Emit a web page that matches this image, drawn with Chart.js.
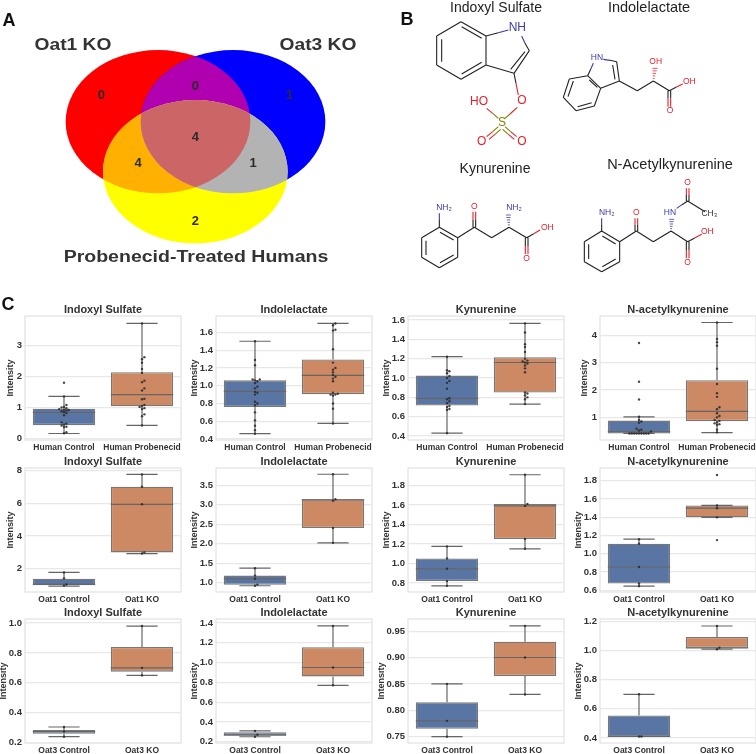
<!DOCTYPE html>
<html>
<head>
<meta charset="utf-8">
<script src="https://cdn.jsdelivr.net/npm/chart.js@4"></script>
<style>
  html, body { margin: 0; padding: 0; background: #fff; }
  #page { position: relative; width: 756px; height: 754px; overflow: hidden; font-family: "Liberation Sans", Arial, sans-serif; }
  #page canvas { position: absolute; }
  .note { position: absolute; white-space: nowrap; transform: translate(-50%, -50%); }
</style>
</head>
<body>
<div id="page"></div>
<script>
// Categories and panel titles
const metabolites = ['Indoxyl Sulfate', 'Indolelactate', 'Kynurenine', 'N-acetylkynurenine'];
const humanGroups = ['Human Control', 'Human Probenecid'];
const oat1Groups = ['Oat1 Control', 'Oat1 KO'];
const oat3Groups = ['Oat3 Control', 'Oat3 KO'];

// Box stats per group: whisker low, q1, median, q3, whisker high
const humanIndoxylBox = [[0.16, 0.43, 0.84, 0.96, 1.36], [0.42, 1.04, 1.42, 2.14, 3.72]];
const humanLactateBox = [[0.46, 0.76, 0.935, 1.06, 1.5], [0.575, 0.905, 1.115, 1.295, 1.7]];
const humanKynBox = [[0.43, 0.715, 0.79, 1.025, 1.22], [0.73, 0.85, 1.16, 1.215, 1.565]];
const humanAcetylBox = [[0.41, 0.41, 0.48, 0.88, 1.02], [0.44, 0.86, 1.22, 2.36, 4.47]];
const oat1IndoxylBox = [[0.95, 1.0, 1.05, 1.4, 1.78], [2.93, 3.0, 5.93, 7.0, 7.75]];
const oat1LactateBox = [[0.92, 0.945, 1.1, 1.18, 1.37], [2.02, 2.4, 3.12, 3.14, 3.78]];
const oat1KynBox = [[0.77, 0.82, 0.945, 1.05, 1.175], [1.15, 1.25, 1.59, 1.61, 1.91]];
const oat1AcetylBox = [[0.645, 0.675, 0.855, 1.11, 1.16], [1.4, 1.4, 1.5, 1.53, 1.53]];
const oat3IndoxylBox = [[0.24, 0.26, 0.275, 0.285, 0.305], [0.65, 0.675, 0.7, 0.84, 0.98]];
const oat3LactateBox = [[0.25, 0.26, 0.27, 0.295, 0.31], [0.77, 0.86, 0.95, 1.155, 1.37]];
const oat3KynBox = [[0.75, 0.765, 0.78, 0.815, 0.85], [0.83, 0.865, 0.9, 0.93, 0.96]];
const oat3AcetylBox = [[0.41, 0.41, 0.41, 0.555, 0.7], [1.01, 1.02, 1.02, 1.095, 1.17]];

// Individual samples per group
const humanIndoxylPts = [
  [1.8, 1.36, 1.08, 1.02, 1.0, 0.98, 0.95, 0.93, 0.92, 0.9, 0.88, 0.85, 0.82, 0.75, 0.52, 0.48, 0.45, 0.42, 0.38, 0.37, 0.2, 0.17],
  [3.72, 2.63, 2.56, 2.45, 2.25, 2.12, 1.87, 1.82, 1.62, 1.55, 1.28, 1.27, 1.08, 1.05, 1.02, 0.98, 0.95, 0.78, 0.72, 0.42]
];
const humanLactatePts = [
  [1.5, 1.29, 1.23, 1.07, 1.07, 1.06, 1.05, 1.03, 0.99, 0.97, 0.93, 0.92, 0.9, 0.82, 0.8, 0.78, 0.7, 0.61, 0.55, 0.5, 0.46],
  [1.7, 1.68, 1.63, 1.62, 1.41, 1.26, 1.2, 1.18, 1.15, 1.12, 1.1, 1.08, 1.05, 0.92, 0.91, 0.9, 0.9, 0.89, 0.8, 0.74, 0.575]
];
const humanKynPts = [
  [1.22, 1.08, 1.07, 1.05, 1.02, 1.0, 0.97, 0.95, 0.89, 0.79, 0.78, 0.76, 0.74, 0.71, 0.7, 0.68, 0.67, 0.43],
  [1.565, 1.47, 1.35, 1.32, 1.27, 1.2, 1.18, 1.17, 1.16, 1.15, 1.13, 1.1, 1.06, 0.85, 0.84, 0.82, 0.8, 0.78, 0.73]
];
const humanAcetylPts = [
  [3.72, 2.3, 1.65, 1.02, 0.9, 0.85, 0.8, 0.58, 0.55, 0.52, 0.48, 0.41, 0.41, 0.41, 0.41, 0.41, 0.41, 0.41, 0.41, 0.41],
  [4.47, 3.87, 3.75, 3.62, 2.78, 2.22, 1.88, 1.75, 1.37, 1.3, 1.15, 1.05, 1.0, 0.9, 0.87, 0.82, 0.78, 0.75, 0.72, 0.55, 0.45]
];
const oat1IndoxylPts = [[1.78, 1.42, 1.05, 0.98], [2.93, 3.0, 5.93, 7.0, 7.75]];
const oat1LactatePts = [[0.92, 0.95, 1.1, 1.18, 1.37], [2.02, 2.4, 3.1, 3.14, 3.78]];
const oat1KynPts = [[0.77, 0.82, 0.945, 1.05, 1.175], [1.15, 1.25, 1.59, 1.61, 1.91]];
const oat1AcetylPts = [[0.645, 0.675, 0.855, 1.11, 1.16], [1.15, 1.4, 1.5, 1.53, 1.865]];
const oat3IndoxylPts = [[0.24, 0.275, 0.305], [0.65, 0.7, 0.98]];
const oat3LactatePts = [[0.25, 0.27, 0.31], [0.77, 0.95, 1.37]];
const oat3KynPts = [[0.75, 0.78, 0.85], [0.83, 0.9, 0.96]];
const oat3AcetylPts = [[0.41, 0.41, 0.7], [1.01, 1.02, 1.17]];

// Tick labels of each y axis
const humanIndoxylTicks = [0, 1, 2, 3];
const humanLactateTicks = [0.4, 0.6, 0.8, 1.0, 1.2, 1.4, 1.6];
const humanKynTicks = [0.4, 0.6, 0.8, 1.0, 1.2, 1.4, 1.6];
const humanAcetylTicks = [1, 2, 3, 4];
const oat1IndoxylTicks = [2, 4, 6, 8];
const oat1LactateTicks = [1.0, 1.5, 2.0, 2.5, 3.0, 3.5];
const oat1KynTicks = [0.8, 1.0, 1.2, 1.4, 1.6, 1.8];
const oat1AcetylTicks = [0.6, 0.8, 1.0, 1.2, 1.4, 1.6, 1.8];
const oat3IndoxylTicks = [0.2, 0.4, 0.6, 0.8, 1.0];
const oat3LactateTicks = [0.2, 0.4, 0.6, 0.8, 1.0, 1.2, 1.4];
const oat3KynTicks = [0.75, 0.8, 0.85, 0.9, 0.95];
const oat3AcetylTicks = [0.4, 0.6, 0.8, 1.0, 1.2];

// Venn counts
const vennCounts = [0, 0, 1, 4, 4, 1, 2];

const AXIS_W = 30, PLOT_W = 156, PLOT_H = 124, TITLE_H = 16, XAXIS_H = 16;
const colLeft = [25, 216, 408, 600];
const rowTop = [316, 468, 619];
const boxColors = ['#5875a4', '#cc8963'];
const FONT = '"Liberation Sans", Arial, sans-serif';
const page = document.getElementById('page');

function addCanvas(left, top, w, h) {
  const c = document.createElement('canvas');
  c.width = w;
  c.height = h;
  c.style.left = left + 'px';
  c.style.top = top + 'px';
  c.style.width = w + 'px';
  c.style.height = h + 'px';
  page.appendChild(c);
  return c.getContext('2d');
}

function addNote(text, x, y, size, weight, color, stretch = 1) {
  const d = document.createElement('div');
  d.className = 'note';
  d.textContent = text;
  d.style.left = x + 'px';
  d.style.top = y + 'px';
  d.style.fontSize = size + 'px';
  d.style.fontWeight = weight;
  d.style.color = color;
  d.style.transform = `translate(-50%, -50%) scaleX(${stretch})`;
  page.appendChild(d);
}

// Beeswarm layout, same idea as seaborn's swarmplot: nudge sideways until no overlap
function swarm(values, center, yMin, yMax) {
  const pxPerY = PLOT_H / (yMax - yMin), gap = 2.4, placed = [];
  [...values].sort((a, b) => a - b).forEach(v => {
    const py = v * pxPerY;
    for (let k = 0; k < 30; k++) {
      const off = (k % 2 ? 1 : -1) * Math.ceil(k / 2) * gap;
      if (placed.every(p => Math.hypot(p.off - off, p.py - py) >= gap - 0.01)) {
        placed.push({ off, py, v });
        break;
      }
    }
  });
  return placed.map(p => ({ x: center + p.off / (PLOT_W / 2), y: p.v }));
}

// Whiskers, caps and median as one broken line
function boxLines(stats, i) {
  const [lo, q1, med, q3, hi] = stats;
  const gap = { x: i, y: null };
  return [
    { x: i - 0.2, y: lo }, { x: i + 0.2, y: lo }, gap,
    { x: i - 0.2, y: hi }, { x: i + 0.2, y: hi }, gap,
    { x: i, y: lo }, { x: i, y: q1 }, gap,
    { x: i, y: q3 }, { x: i, y: hi }, gap,
    { x: i - 0.4, y: med }, { x: i + 0.4, y: med }, gap
  ];
}

const framePlugin = {
  id: 'frame',
  beforeDraw(chart) {
    const a = chart.chartArea, ctx = chart.ctx;
    ctx.save();
    ctx.strokeStyle = '#e4e4e4';
    ctx.lineWidth = 1.3;
    ctx.strokeRect(a.left, a.top, a.right - a.left, a.bottom - a.top);
    ctx.restore();
  }
};

function boxPanel(row, col, groups, box, pts, ticks, yMin, yMax, titleX) {
  const left = colLeft[col] - AXIS_W, top = rowTop[row] - TITLE_H;
  const ctx = addCanvas(left, top, AXIS_W + PLOT_W + 4, TITLE_H + PLOT_H + XAXIS_H);
  const points = pts.flatMap((vals, i) => swarm(vals, i, yMin, yMax));
  new Chart(ctx, {
    type: 'bar',
    data: {
      datasets: [
        { type: 'scatter', data: points, pointRadius: 1.2, pointBackgroundColor: 'rgba(40,40,40,0.85)', pointBorderWidth: 0 },
        { type: 'scatter', showLine: true, spanGaps: false, data: box.flatMap(boxLines), pointRadius: 0, borderColor: '#666', borderWidth: 1.2 },
        {
          type: 'bar',
          data: box.map((s, i) => ({ x: i, y: [s[1], s[3]] })),
          backgroundColor: boxColors,
          borderColor: '#777',
          borderWidth: 1.3,
          borderSkipped: false,
          barPercentage: 1,
          categoryPercentage: 0.8
        }
      ]
    },
    options: {
      responsive: false,
      animation: false,
      plugins: {
        legend: { display: false },
        tooltip: { enabled: false },
        title: {
          display: true,
          fullSize: false,
          text: metabolites[col],
          color: '#333',
          font: { family: FONT, size: 11, weight: 'bold', lineHeight: '12px' },
          padding: { top: 4, bottom: 0 }
        }
      },
      scales: {
        x: {
          type: 'linear',
          offset: false,
          min: -0.5,
          max: 1.5,
          grid: { display: false, drawTicks: false },
          border: { display: false },
          afterBuildTicks: s => { s.ticks = [{ value: 0 }, { value: 1 }]; },
          afterFit: s => { s.height = XAXIS_H; s.paddingLeft = 0; s.paddingRight = 0; },
          ticks: {
            autoSkip: false,
            maxRotation: 0,
            padding: 3,
            color: '#333',
            font: { family: FONT, size: 8.5, weight: 'bold' },
            callback: v => groups[v]
          }
        },
        y: {
          min: yMin,
          max: yMax,
          grid: { color: '#e8e8e8', lineWidth: 1.2, drawTicks: false },
          border: { display: false },
          afterBuildTicks: s => { s.ticks = ticks.map(value => ({ value })); },
          afterFit: s => { s.width = AXIS_W; s.paddingTop = 0; s.paddingBottom = 0; },
          title: {
            display: true,
            text: 'Intensity',
            color: '#333',
            font: { family: FONT, size: 9, weight: 'bold', lineHeight: '10px' },
            padding: { top: titleX - left - 5, bottom: 0 }
          },
          ticks: {
            padding: 3,
            color: '#333',
            font: { family: FONT, size: 9.5, weight: 'bold' },
            callback: v => {
              const step = ticks.length > 1 ? ticks[1] - ticks[0] : 1;
              return v.toFixed(step < 0.1 ? 2 : step < 1 ? 1 : Number.isInteger(ticks[0]) ? 0 : 1);
            }
          }
        }
      }
    },
    plugins: [framePlugin]
  });
}

boxPanel(0, 0, humanGroups, humanIndoxylBox, humanIndoxylPts, humanIndoxylTicks, -0.05, 3.96, 11);
boxPanel(0, 1, humanGroups, humanLactateBox, humanLactatePts, humanLactateTicks, 0.389, 1.784, 195);
boxPanel(0, 2, humanGroups, humanKynBox, humanKynPts, humanKynTicks, 0.359, 1.641, 387);
boxPanel(0, 3, humanGroups, humanAcetylBox, humanAcetylPts, humanAcetylTicks, 0.171, 4.707, 585);
boxPanel(1, 0, oat1Groups, oat1IndoxylBox, oat1IndoxylPts, oat1IndoxylTicks, 0.59, 8.14, 11);
boxPanel(1, 1, oat1Groups, oat1LactateBox, oat1LactatePts, oat1LactateTicks, 0.76, 3.94, 195);
boxPanel(1, 2, oat1Groups, oat1KynBox, oat1KynPts, oat1KynTicks, 0.707, 1.979, 387);
boxPanel(1, 3, oat1Groups, oat1AcetylBox, oat1AcetylPts, oat1AcetylTicks, 0.581, 1.941, 579);
boxPanel(2, 0, oat3Groups, oat3IndoxylBox, oat3IndoxylPts, oat3IndoxylTicks, 0.198, 1.027, 4);
boxPanel(2, 1, oat3Groups, oat3LactateBox, oat3LactatePts, oat3LactateTicks, 0.187, 1.44, 195);
boxPanel(2, 2, oat3Groups, oat3KynBox, oat3KynPts, oat3KynTicks, 0.738, 0.973, 382);
boxPanel(2, 3, oat3Groups, oat3AcetylBox, oat3AcetylPts, oat3AcetylTicks, 0.365, 1.218, 579);

// Panel A: Venn diagram. Scale units are 1/3 px so they read like the zoomed picture.
const vennRed = [474, 365, 277, 215];
const vennBlue = [699, 365, 277, 215];
const vennYellow = [586, 515, 277, 215];
const vennSpots = [[304, 287], [586, 260], [869, 287], [586, 412], [414, 490], [759, 490], [586, 664]];

const vennPlugin = {
  id: 'venn',
  beforeDatasetsDraw(chart) {
    const { ctx, scales: { x, y } } = chart;
    const path = e => {
      ctx.beginPath();
      ctx.ellipse(x.getPixelForValue(e[0]), y.getPixelForValue(e[1]),
        Math.abs(x.getPixelForValue(e[2]) - x.getPixelForValue(0)), Math.abs(y.getPixelForValue(e[3]) - y.getPixelForValue(0)), 0, 0, Math.PI * 2);
    };
    const region = (color, list) => {
      ctx.save();
      list.slice(1).forEach(e => { path(e); ctx.clip(); });
      path(list[0]);
      ctx.fillStyle = color;
      ctx.fill();
      ctx.restore();
    };
    region('#ff0000', [vennRed]);
    region('#0000ff', [vennBlue]);
    region('#ffff00', [vennYellow]);
    region('#b000b0', [vennRed, vennBlue]);
    region('#ffb000', [vennRed, vennYellow]);
    region('#b3b3b3', [vennBlue, vennYellow]);
    region('#cc6666', [vennRed, vennBlue, vennYellow]);
  },
  afterDatasetsDraw(chart) {
    const { ctx, scales: { x, y } } = chart;
    ctx.save();
    ctx.font = 'bold 13px ' + FONT;
    ctx.fillStyle = '#2b2b2b';
    ctx.textAlign = 'center';
    ctx.textBaseline = 'middle';
    chart.data.datasets[0].data.forEach((p, i) => {
      ctx.fillText(String(vennCounts[i]), x.getPixelForValue(p.x), y.getPixelForValue(p.y));
    });
    ctx.restore();
  }
};

function hiddenScales(w, h) {
  return {
    x: { type: 'linear', display: false, min: 0, max: w },
    y: { type: 'linear', display: false, min: 0, max: h, reverse: true }
  };
}

new Chart(addCanvas(0, 0, 380, 280), {
  type: 'scatter',
  data: { datasets: [{ data: vennSpots.map(p => ({ x: p[0], y: p[1] })), pointRadius: 0 }] },
  options: {
    responsive: false,
    animation: false,
    plugins: { legend: { display: false }, tooltip: { enabled: false } },
    scales: hiddenScales(1140, 840)
  },
  plugins: [vennPlugin]
});

// Panel B: structures, bonds as [x1, y1, x2, y2] in the same 1/3 px units
const blackBonds = [
  // indoxyl sulfate
  [213,65,288,108],[288,108,288,195],[288,195,213,238],[213,238,140,195],[140,195,140,108],[140,108,213,65],
  [155,118,155,185],[215,222,275,187],[215,80,275,115],[288,108,325,98],[405,130,418,152],[418,152,372,220],
  [405,155,362,208],[372,220,288,195],[372,220,378,250],
  // indolelactate
  [680,185,688,243],[668,195,675,238],[688,243,632,265],[632,265,593,227],[593,227,538,237],[538,237,520,292],
  [520,292,558,332],[558,332,613,318],[613,318,632,265],[550,243,534,290],[563,320,605,308],[598,240,622,262],
  [688,243,742,272],[742,272,790,243],[790,243,838,272],[838,272,858,262],[660,181,680,185],[593,227,602,208],
  [834,272,834,295],[842,272,842,295],
  // kynurenine
  [148,660,148,682],[148,682,203,713],[203,713,203,772],[203,772,148,803],[148,803,95,772],[95,772,95,713],[95,713,148,682],
  [108,722,108,765],[150,697,191,720],[150,788,191,765],[203,713,253,682],[249,682,249,660],[257,682,257,660],
  [253,682,305,713],[305,713,357,682],[357,682,410,713],[410,713,430,702],[406,713,406,738],[414,713,414,738],
  // n-acetylkynurenine
  [635,675,635,693],[635,693,689,725],[689,725,689,785],[689,785,635,815],[635,815,583,785],[583,785,583,725],[583,725,635,693],
  [596,733,596,777],[637,708,677,732],[637,800,677,777],[689,725,739,693],[735,693,735,675],[743,693,743,675],
  [739,693,790,725],[790,725,843,693],[843,693,893,725],[893,725,914,714],[889,725,889,750],[897,725,897,750],
  [876,614,893,603],[889,603,889,585],[897,603,897,585],[893,603,945,635]
];
const redBonds = [
  [378,250,385,285],[382,322,360,342],[290,325,308,340],[308,395,290,410],[315,403,297,418],[362,395,380,410],[355,403,373,418],
  [858,262,878,252],[834,295,834,320],[842,295,842,320],
  [249,660,249,635],[257,660,257,635],[430,702,450,690],[406,738,406,762],[414,738,414,762],
  [735,675,735,655],[743,675,743,655],[914,714,935,703],[889,750,889,775],[897,750,897,775],[889,585,889,565],[897,585,897,565]
];
const blueBonds = [
  [325,98,355,90],[395,108,405,130],[602,208,610,190],[640,178,660,181],
  [148,640,148,660],[635,655,635,675],[860,625,876,614]
];
const oliveBonds = [
  [360,342,345,355],[308,340,325,355],[325,380,308,395],[332,388,315,403],[345,380,362,395],[338,388,355,403]
];
// Hashed stereo bonds: [x1, y1, x2, y2], narrow end first
const redHashes = [[790,243,795,205]];
const blueHashes = [[357,682,355,645],[843,693,845,658]];
const BLUE = '#3b3ba8', RED = '#e8202a', OLIVE = '#808000';
const atomLabels = [
  ['NH',382,83,BLUE,12],['O',396,303,RED,12],['HO',267,305,RED,12],['S',336,367,OLIVE,12],['O',275,425,RED,12],['O',396,425,RED,12],
  ['HN',621,173,BLUE,8.5],['OH',797,185,RED,8.5],['OH',898,245,RED,8.5],['O',840,333,RED,8.5],
  ['NH₂',162,622,BLUE,8.5],['O',253,620,RED,8.5],['NH₂',372,622,BLUE,8.5],['OH',472,683,RED,8.5],['O',410,775,RED,8.5],
  ['NH₂',650,637,BLUE,8.5],['O',739,637,RED,8.5],['HN',840,637,BLUE,8.5],['O',893,548,RED,8.5],['CH₃',958,640,'#333',8.5],['OH',952,695,RED,8.5],['O',893,787,RED,8.5]
];

function bondPoints(list) {
  return list.flatMap(b => [{ x: b[0], y: b[1] }, { x: b[2], y: b[3] }, { x: b[2], y: null }]);
}

// Turn a hashed bond into short rungs that widen towards the far end
function hashBonds(list) {
  const out = [];
  list.forEach(b => {
    for (let k = 1; k <= 5; k++) {
      const t = k / 5, cx = b[0] + (b[2] - b[0]) * t, cy = b[1] + (b[3] - b[1]) * t, half = 1.5 + 6 * t;
      out.push([cx - half, cy, cx + half, cy]);
    }
  });
  return out;
}

function bondSet(list, color, width) {
  return { data: bondPoints(list), showLine: true, spanGaps: false, pointRadius: 0, borderColor: color, borderWidth: width };
}

const atomPlugin = {
  id: 'atoms',
  afterDatasetsDraw(chart) {
    const { ctx, scales: { x, y } } = chart;
    ctx.save();
    ctx.textAlign = 'center';
    ctx.textBaseline = 'middle';
    atomLabels.forEach(a => {
      ctx.font = a[4] + 'px ' + FONT;
      ctx.fillStyle = a[3];
      ctx.fillText(a[0], x.getPixelForValue(a[1]), y.getPixelForValue(a[2]));
    });
    ctx.restore();
  }
};

new Chart(addCanvas(390, 0, 366, 280), {
  type: 'scatter',
  data: {
    datasets: [
      bondSet(blackBonds, '#222', 1.1),
      bondSet(redBonds, RED, 1.1),
      bondSet(blueBonds, BLUE, 1.1),
      bondSet(oliveBonds, OLIVE, 1.1),
      bondSet(hashBonds(redHashes), RED, 0.8),
      bondSet(hashBonds(blueHashes), BLUE, 0.8)
    ]
  },
  options: {
    responsive: false,
    animation: false,
    plugins: { legend: { display: false }, tooltip: { enabled: false } },
    scales: hiddenScales(1098, 840)
  },
  plugins: [atomPlugin]
});

// Panel letters and headings
addNote('A', 9, 20, 18, 'bold', '#111');
addNote('B', 407, 19, 18, 'bold', '#111');
addNote('C', 8, 304, 18, 'bold', '#111');
addNote('Oat1 KO', 72.5, 45, 16, 'bold', '#333', 1.2);
addNote('Oat3 KO', 317.6, 45, 16, 'bold', '#333', 1.2);
addNote('Probenecid-Treated Humans', 195.5, 257, 16, 'bold', '#333', 1.22);
addNote('Indoxyl Sulfate', 496, 7, 14, 'normal', '#222');
addNote('Indolelactate', 649, 7, 14.5, 'normal', '#222');
addNote('Kynurenine', 495, 168, 14, 'normal', '#222');
addNote('N-Acetylkynurenine', 670, 164, 14.5, 'normal', '#222');
</script>
</body>
</html>
